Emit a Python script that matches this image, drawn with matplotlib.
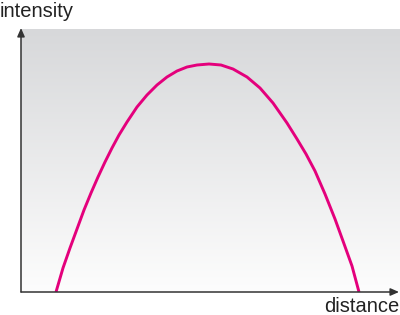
import numpy as np
import matplotlib
matplotlib.use("Agg")
import matplotlib.pyplot as plt

# data (arbitrary units)
distance = [35, 42, 49, 56, 63, 70, 77, 84, 91, 98, 106, 116, 126, 136,
            146, 156, 166, 176, 188, 200, 212, 226, 239, 252, 266, 276,
            285, 294, 304, 314, 322, 331, 338]
intensity = [0, 24, 44, 63, 82, 99, 115, 130, 144, 157, 170, 185, 197, 207,
             215, 221, 225, 227, 228, 227, 223, 215, 204, 189, 169, 153,
             138, 121, 98, 73, 51, 26, 0]
x_label = "distance"
y_label = "intensity"

fig = plt.figure(figsize=(4.0, 3.15), dpi=100)
ax = fig.add_axes([21/400, 23/315, 379/400, 263/315])

# gradient background (gray at top to white at bottom)
grad = np.linspace(0, 1, 256).reshape(-1, 1)
top = np.array([215, 216, 218]) / 255
bot = np.array([253, 253, 253]) / 255
img = top[None, None, :] * (1 - grad[:, :, None]) + bot[None, None, :] * grad[:, :, None]
ax.imshow(img, extent=[0, 379, 0, 263], origin="upper", aspect="auto", zorder=0)
ax.set_xlim(0, 379)
ax.set_ylim(0, 263)

ax.plot(distance, intensity, color="#E4007C", lw=2.1, solid_capstyle="butt",
        solid_joinstyle="round", zorder=3)

for s in ax.spines.values():
    s.set_visible(False)
ax.set_xticks([])
ax.set_yticks([])

# axes with arrows (figure coords)
axcol = "#333333"
fig.add_artist(matplotlib.patches.FancyArrowPatch(
    (21/400, 23/315), (399/400, 23/315), transform=fig.transFigure,
    arrowstyle="-|>,head_length=5,head_width=2.2", color=axcol, lw=1.1,
    shrinkA=0, shrinkB=0, mutation_scale=1))
fig.add_artist(matplotlib.patches.FancyArrowPatch(
    (21/400, 23/315), (21/400, 287/315), transform=fig.transFigure,
    arrowstyle="-|>,head_length=5,head_width=2.2", color=axcol, lw=1.1,
    shrinkA=0, shrinkB=0, mutation_scale=1))

fig.text(0/400, 1 - 17/315, y_label, ha="left", va="baseline", fontsize=14.5,
         family="Liberation Sans", color="#222222")
fig.text(399/400, 3/315, x_label, ha="right", va="baseline", fontsize=14.5,
         family="Liberation Sans", color="#222222")

fig.savefig("out.png", dpi=100)
